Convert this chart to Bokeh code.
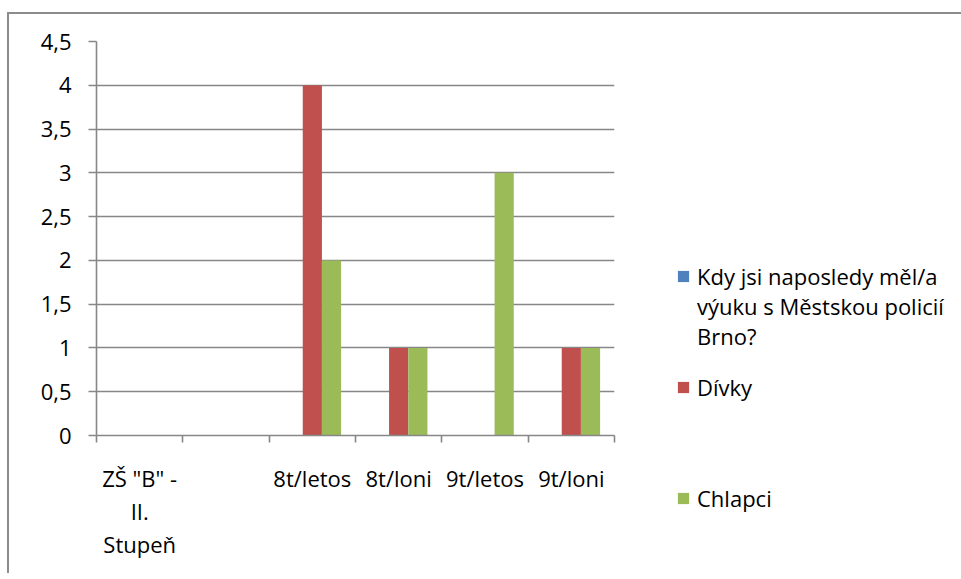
from bokeh.plotting import figure
from bokeh.models import (Range1d, FixedTicker, CustomJSTickFormatter, Legend,
                          LegendItem, ColumnDataSource)
from bokeh.embed import file_html
from bokeh.resources import INLINE

# ---- data ----
categories = ['ZŠ "B" - II. Stupeň', '', '8t/letos', '8t/loni', '9t/letos', '9t/loni']
x_labels = ['ZŠ "B" -\nII.\nStupeň', '', '8t/letos', '8t/loni', '9t/letos', '9t/loni']
series_names = ['Kdy jsi naposledy měl/a', 'výuku s Městskou policií', 'Brno?',
                'Dívky', 'Chlapci']
kdy = [0, 0, 0, 0, 0, 0]
divky = [0, 0, 4, 1, 0, 1]
chlapci = [0, 0, 2, 1, 3, 1]
series_values = [kdy, divky, chlapci]
colors = ['#4F81BD', '#C0504D', '#9BBB59']
y_ticks = [0, 0.5, 1, 1.5, 2, 2.5, 3, 3.5, 4, 4.5]

FONT = "Open Sans"
FS = "22px"
GRID = "#878787"
LH = 1.1

n = len(categories)
bw = 1 / 4.5

p = figure(frame_width=518, frame_height=394, x_range=Range1d(0, n), y_range=Range1d(0, 4.5),
           output_backend="svg", toolbar_location=None,
           min_border_left=87, min_border_top=27, min_border_bottom=138,
           min_border_right=0)
p.styles = {"border-left": "2px solid #8c8c8c", "border-top": "2px solid #8c8c8c",
            "margin-left": "7px", "margin-top": "12px"}
p.outline_line_color = None
p.background_fill_color = "white"
p.border_fill_color = "white"

renderers = []
for k, (vals, col) in enumerate(zip(series_values, colors)):
    xs = [i + 0.5 + (k - 1) * bw for i in range(n)]
    src = ColumnDataSource(dict(x=xs, top=vals))
    r = p.vbar(x='x', top='top', bottom=0, width=bw, source=src,
               fill_color=col, line_color=None)
    renderers.append(r)

# grid
p.xgrid.visible = False
p.ygrid.ticker = FixedTicker(ticks=y_ticks)
p.ygrid.grid_line_color = GRID
p.ygrid.grid_line_width = 1.6

# x axis
xa = p.xaxis[0]
xa.ticker = FixedTicker(ticks=[i + 0.5 for i in range(n)], minor_ticks=list(range(n + 1)))
xa.formatter = CustomJSTickFormatter(args=dict(labels=x_labels),
                                     code="return labels[Math.floor(tick)];")
xa.major_tick_line_color = None
xa.major_tick_out = 0
xa.major_tick_in = 0
xa.minor_tick_in = 0
xa.minor_tick_out = 7
xa.minor_tick_line_color = GRID
xa.minor_tick_line_width = 1.6
xa.axis_line_color = GRID
xa.axis_line_width = 1.6
xa.major_label_standoff = 20
xa.major_label_text_font = FONT
xa.major_label_text_font_size = FS
xa.major_label_text_color = "black"
xa.major_label_text_line_height = LH

# y axis
ya = p.yaxis[0]
ya.ticker = FixedTicker(ticks=y_ticks)
ya.formatter = CustomJSTickFormatter(code="return tick.toString().replace('.', ',');")
ya.major_tick_in = 0
ya.major_tick_out = 8
ya.major_tick_line_color = GRID
ya.major_tick_line_width = 1.6
ya.minor_tick_line_color = None
ya.axis_line_color = GRID
ya.axis_line_width = 1.6
ya.major_label_standoff = 17
ya.major_label_text_font = FONT
ya.major_label_text_font_size = FS
ya.major_label_text_color = "black"

# legend: glyph aligned with first line of the long label (blank lines pad it)
label1 = " \n \n" + "\n".join(series_names[0:3])
label2 = series_names[3]
label3 = " \n \n" + series_names[4] + "\n \n "
legend = Legend(items=[LegendItem(label=label1, renderers=[renderers[0]]),
                       LegendItem(label=label2, renderers=[renderers[1]]),
                       LegendItem(label=label3, renderers=[renderers[2]])],
                location=(62, -138), padding=0, margin=0, spacing=21,
                glyph_width=14, glyph_height=14, label_standoff=7,
                label_text_font=FONT, label_text_font_size=FS,
                label_text_color="black", label_text_line_height=LH,
                border_line_color=None, background_fill_alpha=0)
p.add_layout(legend, "right")

open("out.html", "w").write(file_html(p, INLINE))
